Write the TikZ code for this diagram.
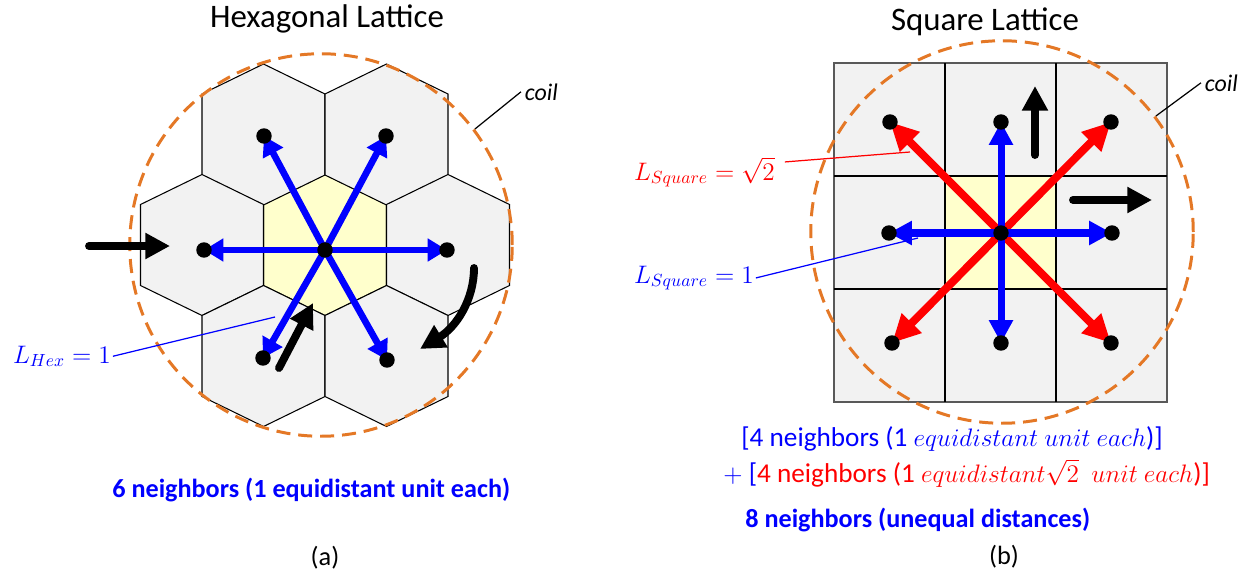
\documentclass[tikz,border=0pt]{standalone}
\usepackage[no-math]{fontspec}
\setmainfont{Carlito}
\usepackage{amsmath}
\usetikzlibrary{
  positioning,
  arrows.meta
}

\definecolor{coilorange}{RGB}{228,120,38}
\definecolor{cellgray}{RGB}{242,242,242}
\definecolor{coreyellow}{RGB}{255,255,204}

\begin{document}
\begin{tikzpicture}[
    x=0.02cm, y=-0.02cm,
    % Cell styles
    cell/.style={draw=black, line width=0.6pt, fill=cellgray},
    core/.style={cell, fill=coreyellow},
    hexagon/.style={insert path={++(0,-70.5) -- ++(61.5,30) -- ++(0,81) -- ++(-61.5,30) -- ++(-61.5,-30) -- ++(0,-81) -- cycle}},
    % Sites and coil
    site/.style={circle, fill=black, inner sep=0pt, minimum size=8.8pt},
    coil/.style={circle, draw=coilorange, line width=1.7pt, dash pattern=on 8pt off 4.5pt,
        inner sep=0pt, minimum size=217.7pt},
    % Arrow styles
    hexarr/.style={draw=blue, line width=3.8pt, -{Triangle[length=11pt,width=12.5pt]}},
    onearr/.style={draw=blue, line width=4pt, -{Triangle[length=13pt,width=13pt]}},
    diagarr/.style={draw=red, line width=4.5pt, -{Triangle[length=16pt,width=15pt]}},
    motion/.style={draw=black, line width=4.5pt, line cap=round, -{Triangle[length=14pt,width=14pt]}},
    leader/.style={line width=0.7pt},
    % Text styles
    title/.style={font=\fontsize{18.7pt}{22pt}\selectfont, inner sep=0pt},
    caption/.style={font=\fontsize{15pt}{18pt}\selectfont, inner sep=0pt},
    summary/.style={font=\fontsize{14.9pt}{18pt}\selectfont\bfseries, text=blue, inner sep=0pt},
    note/.style={font=\fontsize{15.5pt}{18pt}\selectfont, inner sep=0pt},
    lbl/.style={font=\fontsize{14.4pt}{17pt}\selectfont, inner sep=1pt},
    coillbl/.style={font=\fontsize{13.6pt}{16pt}\selectfont\itshape, inner sep=2pt}
]
\useasboundingbox (0,0) rectangle (1250,578);

% ==========================================
% (a) HEXAGONAL LATTICE
% ==========================================
\node[title, anchor=base] (hextitle) at (327,28) {Hexagonal Lattice};

% --- Cells ---
\draw[core] (325,245) [hexagon];
\foreach \cx/\cy in {263.5/134.5, 386.5/134.5, 202/245, 448/245, 263.5/356, 386.5/356}
    \draw[cell] (\cx,\cy) [hexagon];

% --- Coil ---
\node[coil] (hexcoil) at (321,245) {};
\node[coillbl, anchor=base west] (hexcoillbl) at (521,100) {coil};
\draw[leader] (hexcoil.37) -- (hexcoillbl.west);

% --- Sites ---
\coordinate (hc) at (325,250);
\coordinate (h1) at (264,136);
\coordinate (h2) at (386,136);
\coordinate (h3) at (204,250);
\coordinate (h4) at (447,250);
\coordinate (h5) at (263,358);
\coordinate (h6) at (387,360);

% --- Label ---
\node[lbl, text=blue, anchor=base west] (lhex) at (11,363) {$L_{Hex}=1$};
\coordinate (lhexend) at (275,317);
\draw[leader, blue] (lhex.east) -- (lhexend);

% --- Bonds ---
\foreach \n in {h1,h2,h3,h4,h5,h6}
    \draw[hexarr] (hc) -- (\n);
\foreach \n in {hc,h1,h2,h3,h4,h5,h6}
    \node[site] (dot-\n) at (\n) {};

% --- Motion ---
\coordinate (hm1a) at (89,246);
\coordinate (hm1b) at (170,246);
\coordinate (hm2a) at (279,368);
\coordinate (hm2b) at (313,303);
\coordinate (hm3a) at (474,268);
\coordinate (hm3b) at (420,349);
\draw[motion] (hm1a) -- (hm1b);
\draw[motion] (hm2a) -- (hm2b);
\draw[motion] (hm3a) .. controls (474,300) and (456,327) .. (hm3b);

\node[summary, anchor=base west] (hexsum) at (112,497) {6 neighbors (1 equidistant unit each)};
\node[caption, anchor=base] (capa) at (325,565) {(a)};

% ==========================================
% (b) SQUARE LATTICE
% ==========================================
\node[title, anchor=base] (sqtitle) at (985,31) {Square Lattice};

% --- Cells ---
\draw[cell, draw=black!65] (834,63) rectangle (1167,402);
\draw[core] (945,176) rectangle (1056,289);
\draw[line width=0.6pt] (945,63) -- (945,402) (1056,63) -- (1056,402)
    (834,176) -- (1167,176) (834,289) -- (1167,289);

% --- Coil ---
\node[coil] (sqcoil) at (1002,232) {};
\node[coillbl, anchor=base west] (sqcoillbl) at (1201,91) {coil};
\draw[leader] (sqcoil.37) -- (sqcoillbl.west);

% --- Sites ---
\coordinate (sc) at (1001,233);
\coordinate (s1) at (890,122);
\coordinate (s2) at (1001,122);
\coordinate (s3) at (1111,122);
\coordinate (s4) at (889,233);
\coordinate (s5) at (1112,233);
\coordinate (s6) at (892,343);
\coordinate (s7) at (1001,343);
\coordinate (s8) at (1111,343);

% --- Labels ---
\node[lbl, text=red, anchor=base west] (lsqtwo) at (632,180) {$L_{Square}=\sqrt{2}$};
\node[lbl, text=blue, anchor=base west] (lsqone) at (632,283) {$L_{Square}=1$};
\coordinate (lsqtwoend) at (910,152);
\coordinate (lsqoneend) at (918,238);
\draw[leader, red] ([shift={(8,7)}]lsqtwo.north east) -- (lsqtwoend);
\draw[leader, blue] (lsqone.east) -- (lsqoneend);

% --- Bonds ---
\foreach \n in {s1,s3,s6,s8}
    \draw[diagarr] (sc) -- (\n);
\foreach \n in {s2,s4,s5,s7}
    \draw[onearr] (sc) -- (\n);
\foreach \n in {sc,s1,s2,s3,s4,s5,s6,s7,s8}
    \node[site] (dot-\n) at (\n) {};

% --- Motion ---
\coordinate (sm1a) at (1035,155);
\coordinate (sm1b) at (1035,86);
\coordinate (sm2a) at (1073,200);
\coordinate (sm2b) at (1152,200);
\draw[motion] (sm1a) -- (sm1b);
\draw[motion] (sm2a) -- (sm2b);

% --- Counting ---
\node[note, text=blue, anchor=base west] (sqline1) at (741,446)
    {[4 neighbors (1 $equidistant\ unit\ each$)]};
\node[note, text=red, anchor=base west] (sqline2) at (723,482)
    {{\color{blue}$+$ [}4 neighbors (1 $equidistant\smash{\sqrt{2}}\ \ unit\ each$)]};
\node[summary, anchor=base west] (sqsum) at (745,527) {8 neighbors (unequal distances)};
\node[caption, anchor=base] (capb) at (1004,564) {(b)};

\end{tikzpicture}
\end{document}
